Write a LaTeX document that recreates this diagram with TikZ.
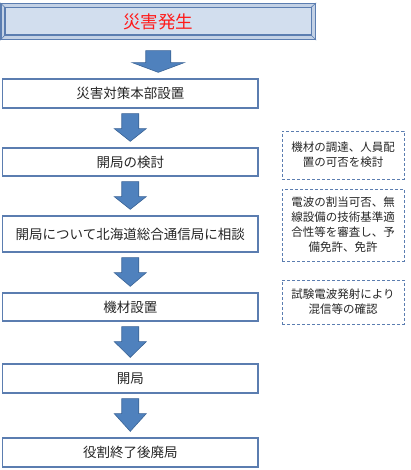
\documentclass[tikz,border=0pt]{standalone}
\usepackage{fontspec}
\setmainfont{Noto Sans CJK JP}
\usetikzlibrary{calc}
\definecolor{boxblue}{HTML}{5B7DB0}
\definecolor{arrfill}{HTML}{4F81BD}
\definecolor{arrdraw}{HTML}{3B6496}
\definecolor{titlefill}{HTML}{D2DEEE}
\definecolor{titleband}{HTML}{C3D1E5}
\definecolor{titlered}{HTML}{FF1A1A}
\definecolor{txt}{HTML}{262626}
\tikzset{
  stepbox/.style={draw=boxblue, line width=1.3pt, fill=white, minimum width=255.5pt,
    inner sep=0pt, font=\fontsize{13.5}{16}\selectfont, text=txt},
  notebox/.style={draw=boxblue, line width=0.9pt, dash pattern=on 3pt off 2pt,
    minimum width=122pt, inner sep=0pt, align=center,
    font=\fontsize{11.5}{15}\selectfont, text=txt},
  blockarr/.style={fill=arrfill, draw=arrdraw, line width=0.6pt, line join=miter}
}
% from, to, top gap, shoulder, half shaft, half head
\newcommand\blockarrow[6]{%
  \draw[blockarr] let \p1=($(#1.south)+(0,-#3)$), \p2=($(#2.north)+(0,6pt)$) in
    (\x1-#5,\y1) -- (\x1+#5,\y1) -- (\x1+#5,\y1-#4) -- (\x1+#6,\y1-#4)
    -- (\x1,\y2) -- (\x1-#6,\y1-#4) -- (\x1-#5,\y1-#4) -- cycle;}
\begin{document}
\begin{tikzpicture}[x=1pt,y=-1pt]
\useasboundingbox (0,0) rectangle (410,470);
% title
\node[draw=boxblue, line width=1.3pt, fill=titleband, minimum width=314.5pt,
  minimum height=36pt, inner sep=0pt] (title) at (158.25,21.5) {};
\draw[draw=boxblue, line width=1.3pt, fill=titlefill]
  ($(title.north west)+(4.5pt,-4.5pt)$) rectangle ($(title.south east)+(-5pt,5pt)$);
\draw[boxblue, line width=0.6pt]
  (title.north west) -- ++(4.5pt,-4.5pt)
  (title.north east) -- ++(-5pt,-4.5pt)
  (title.south west) -- ++(4.5pt,5pt)
  (title.south east) -- ++(-5pt,5pt);
\node[text=titlered, font=\fontsize{17.5}{20}\selectfont] (titletext) at (title.center) {災害発生};
% steps
\node[stepbox, minimum height=29pt] (b1) at (130.25,93.5) {災害対策本部設置};
\node[stepbox, minimum height=28pt] (b2) at (130.25,162) {開局の検討};
\node[stepbox, minimum height=36pt] (b3) at (130.25,234) {開局について北海道総合通信局に相談};
\node[stepbox, minimum height=28pt] (b4) at (130.25,307) {機材設置};
\node[stepbox, minimum height=29pt] (b5) at (130.25,378.5) {開局};
\node[stepbox, minimum height=29pt] (b6) at (130.25,452.5) {役割終了後廃局};
% arrows
\blockarrow{title}{b1}{10.5pt}{12pt}{12.5pt}{26pt}
\blockarrow{b1}{b2}{5pt}{15pt}{8.5pt}{16pt}
\blockarrow{b2}{b3}{5pt}{15pt}{8.5pt}{16pt}
\blockarrow{b3}{b4}{5pt}{15pt}{8.5pt}{16pt}
\blockarrow{b4}{b5}{5pt}{15pt}{8.5pt}{16pt}
\blockarrow{b5}{b6}{5pt}{15pt}{8.5pt}{16pt}
% notes
\node[notebox, minimum height=48pt] (n1) at (343,155) {機材の調達、人員配\\置の可否を検討};
\node[notebox, minimum height=72pt] (n2) at (343,225) {電波の割当可否、無\\線設備の技術基準適\\合性等を審査し、予\\備免許、免許};
\node[notebox, minimum height=44pt] (n3) at (343,302) {試験電波発射により\\混信等の確認};
\end{tikzpicture}
\end{document}
